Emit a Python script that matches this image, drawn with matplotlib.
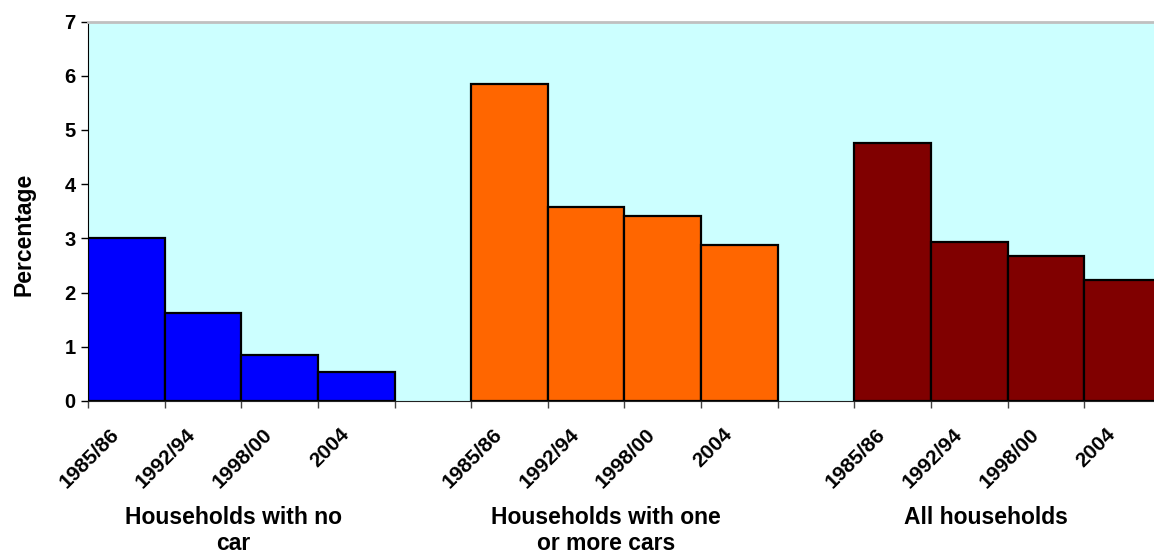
import matplotlib
matplotlib.use("Agg")
import matplotlib.pyplot as plt
from matplotlib.transforms import ScaledTranslation, blended_transform_factory
import numpy as np

plt.rcParams['font.family'] = ['Liberation Sans', 'DejaVu Sans']
plt.rcParams['font.weight'] = 'bold'

# Survey periods shown within each household group
periods = ["1985/86", "1992/94", "1998/00", "2004"]

# Percentage values for each group
no_car = [3.01, 1.62, 0.84, 0.54]
one_or_more_cars = [5.85, 3.57, 3.42, 2.87]
all_households = [4.75, 2.94, 2.68, 2.24]

group_names = ["Households with no\ncar", "Households with one\nor more cars", "All households"]
group_colors = ["#0000FF", "#FF6600", "#800000"]
group_values = [no_car, one_or_more_cars, all_households]

W, H = 1154, 554
fig = plt.figure(figsize=(W / 100, H / 100), dpi=100)
fig.patch.set_facecolor("white")

n_slots = 14
slot_px = 76.64
ax = fig.add_axes([88 / W, (H - 401) / H, n_slots * slot_px / W, 379.5 / H])
ax.set_facecolor("#CCFFFF")

# Each group takes four slots, followed by one empty slot
centers = []
labels = []
for g, (vals, col) in enumerate(zip(group_values, group_colors)):
    start = g * 5
    xs = np.arange(start, start + len(vals)) + 0.5
    ax.bar(xs, vals, width=1.0, color=col, edgecolor="black", linewidth=1.6, zorder=3)
    centers.extend(xs)
    labels.extend(periods)

ax.set_xlim(0, n_slots)
ax.set_ylim(0, 7)

# y axis
ax.set_yticks(range(0, 8))
ax.tick_params(axis="y", direction="out", length=5, width=1, color="black",
               labelsize=14.5, pad=4)
ax.set_ylabel("Percentage", fontsize=16.5, fontweight="bold")
ax.yaxis.set_label_coords(-0.0485, 0.44)

# x axis: labels at bar centres, tick marks at slot boundaries
ax.set_xticks(centers)
ax.set_xticklabels(labels)
ax.tick_params(axis="x", which="major", length=0, labelsize=15, pad=17)
ax.set_xticks(np.arange(0, n_slots + 1), minor=True)
ax.tick_params(axis="x", which="minor", direction="out", length=5, width=1, color="#444444")
shift = ScaledTranslation(-17 / 100, 0, fig.dpi_scale_trans)
for lab in ax.get_xticklabels():
    lab.set_rotation(45)
    lab.set_ha("right")
    lab.set_rotation_mode("anchor")
    lab.set_fontweight("bold")
    lab.set_transform(lab.get_transform() + shift)
for lab in ax.get_yticklabels():
    lab.set_fontweight("bold")

ax.spines["right"].set_visible(False)
ax.spines["top"].set_color("#C0C0C0")
ax.spines["top"].set_linewidth(2)
ax.spines["left"].set_color("black")
ax.spines["bottom"].set_color("#222222")

# Group names beneath the period labels
trans = blended_transform_factory(ax.transData, ax.transAxes)
group_x = [1.90, 6.76, 11.72]
for gx, name in zip(group_x, group_names):
    ax.text(gx, -0.277, name, transform=trans, ha="center", va="top",
            multialignment="center", fontsize=16.5, fontweight="bold",
            linespacing=1.17)

fig.savefig("out.png", dpi=100)
